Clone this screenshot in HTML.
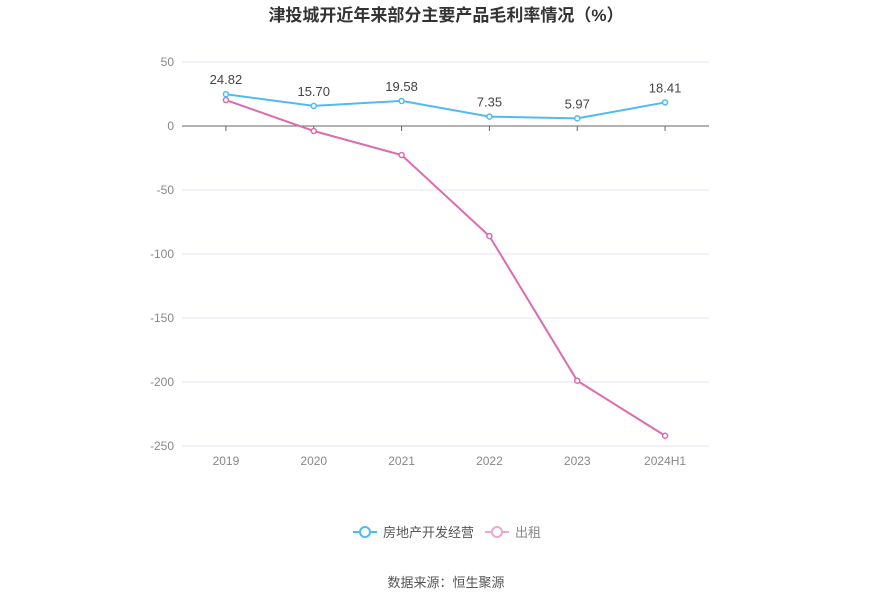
<!DOCTYPE html>
<html><head><meta charset="utf-8"><style>
body{margin:0;background:#fff;width:893px;height:603px;overflow:hidden;font-family:"Liberation Sans","Noto Sans CJK SC",sans-serif;}
</style></head><body>
<svg id="c" width="893" height="603" xmlns="http://www.w3.org/2000/svg">
<text x="446" y="21" text-anchor="middle" font-size="17" font-weight="bold" fill="#333">津投城开近年来部分主要产品毛利率情况（%）</text>
<g id="grid"></g><g id="series"></g>
<g>
<g><line x1="353" y1="532" x2="377" y2="532" stroke="#4fbbf2" stroke-width="2"/><circle cx="365" cy="532" r="5" fill="#fff" stroke="#4fbbf2" stroke-width="2"/><text x="383" y="537" font-size="13" fill="#555">房地产开发经营</text></g>
<g><line x1="485" y1="532" x2="509" y2="532" stroke="#eaa8d2" stroke-width="2"/><circle cx="497" cy="532" r="5" fill="#fff" stroke="#eaa8d2" stroke-width="2"/><text x="515" y="537" font-size="13" fill="#888">出租</text></g>
</g>
<text x="446" y="587" text-anchor="middle" font-size="13" fill="#555">数据来源：恒生聚源</text>
</svg>
<script>
const categories=["2019","2020","2021","2022","2023","2024H1"];
const realEstate=[24.82,15.70,19.58,7.35,5.97,18.41];
const rent=[20.3,-3.9,-22.7,-86,-199,-242];
const yTicks=[50,0,-50,-100,-150,-200,-250];
const NS="http://www.w3.org/2000/svg";
const x0=182,x1=709,yTop=62,yBot=446,vMax=50,vMin=-250;
const bw=(x1-x0)/categories.length;
const xs=i=>x0+bw*(i+0.5);
const ys=v=>yTop+(vMax-v)/(vMax-vMin)*(yBot-yTop);
function mk(t,a,p){const e=document.createElementNS(NS,t);for(const k in a)e.setAttribute(k,a[k]);p.appendChild(e);return e;}
const g=document.getElementById('grid'),s=document.getElementById('series');
yTicks.forEach(v=>{
const l=mk('line',{x1:x0,x2:x1,y1:ys(v),y2:ys(v),stroke:v===0?'#666':'#e3e6f0','stroke-width':1},g);


const t=mk('text',{x:174,y:ys(v)+4,'text-anchor':'end','font-size':12,fill:'#888'},g);t.textContent=v;


});
categories.forEach((c,i)=>{
const tk=mk('line',{x1:xs(i),x2:xs(i),y1:ys(0),y2:ys(0)+5,stroke:'#666'},g);


const t=mk('text',{x:xs(i),y:465,'text-anchor':'middle','font-size':12,fill:'#888'},g);t.textContent=c;


});
function series(vals,color,name,labels){
const p=mk('polyline',{points:vals.map((v,i)=>xs(i)+','+ys(v)).join(' '),fill:'none',stroke:color,'stroke-width':2},s);


vals.forEach((v,i)=>{
const c=mk('circle',{cx:xs(i),cy:ys(v),r:2.5,fill:'#fff',stroke:color,'stroke-width':1.5},s);


if(labels){const t=mk('text',{x:xs(i),y:ys(v)-10,'text-anchor':'middle','font-size':13,fill:'#444'},s);t.textContent=v.toFixed(2);

}
});
}
series(rent,'#dd6bb0','rent',false);
series(realEstate,'#4fbbf2','real-estate',true);
</script>
</body></html>
